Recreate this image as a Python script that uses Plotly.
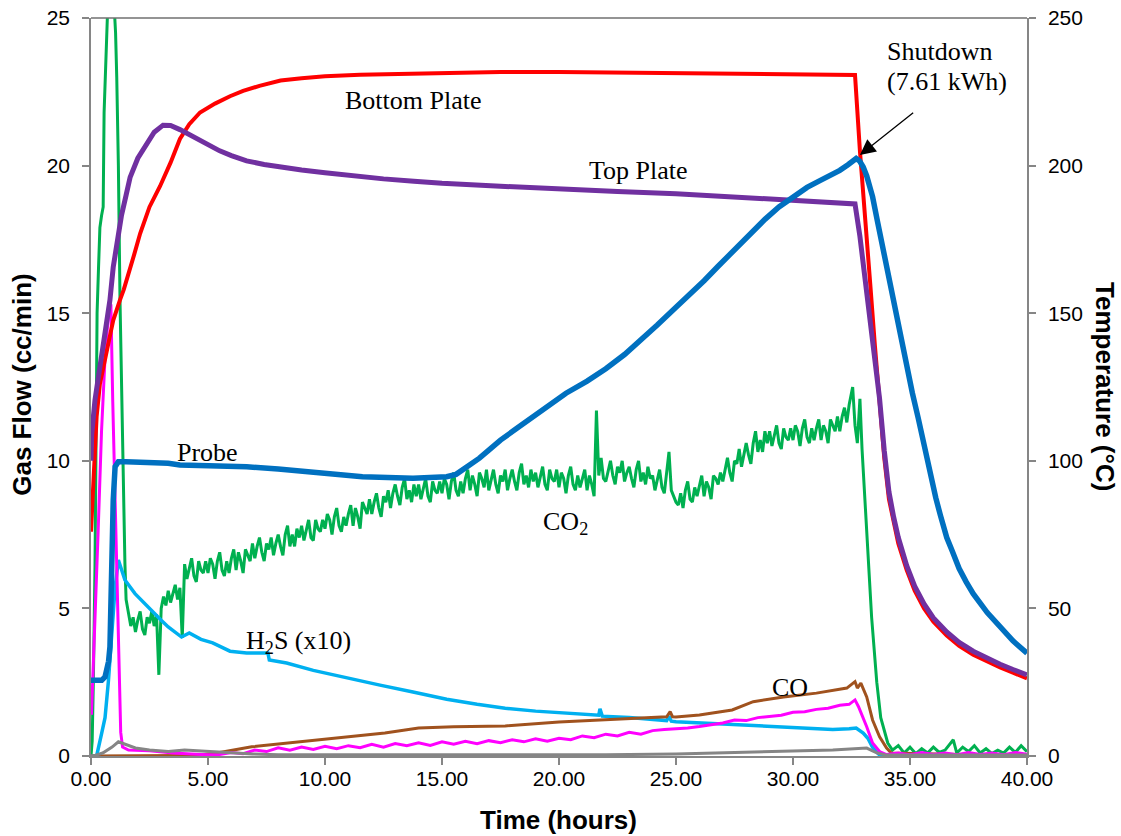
import plotly.graph_objects as go

# ---------------- data ----------------
# Bottom plate temperature (deg C, right axis)
bp_t = [0.0, 0.03, 0.1, 0.24, 0.38, 0.5, 0.67, 0.8, 0.95, 1.1, 1.24, 1.4, 1.6, 1.85, 2.1, 2.5, 2.95,
        3.4, 3.8, 4.2, 4.66, 5.3, 5.94, 6.5, 7.2, 8.1, 9.0, 10.0, 11.5, 12.5, 15.0, 17.5, 20.0, 22.5,
        25.0, 27.5, 30.0, 32.65, 32.86, 33.1, 33.3, 33.5, 33.7, 33.9, 34.1, 34.3, 34.5, 34.86, 35.2,
        35.6, 36.0, 36.57, 37.1, 37.7, 38.3, 38.85, 39.4, 40.0]
bp_v = [76, 81, 98, 115, 126, 131, 137.4, 142, 147.6, 151.5, 154.5, 158, 163, 170, 177, 186, 193,
        201, 209, 214, 218, 221, 223.5, 225.3, 227, 228.8, 229.6, 230.3, 230.8, 231.0, 231.4, 231.7,
        231.7, 231.5, 231.4, 231.2, 231.0, 230.7, 205, 182, 160, 139, 118, 101, 87, 79, 72, 63, 56,
        50, 45.5, 40.8, 37.3, 34.3, 32.0, 30.0, 28.2, 26.3]

# Top plate temperature (deg C, right axis)
tp_t = [0.0, 0.03, 0.17, 0.38, 0.6, 0.81, 0.95, 1.1, 1.3, 1.5, 1.67, 2.0, 2.38, 2.7, 3.08, 3.4, 3.8,
        4.2, 4.6, 5.0, 5.5, 6.0, 6.65, 7.4, 8.08, 9.0, 10.0, 11.2, 12.5, 13.8, 15.0, 17.5, 20.0,
        22.5, 25.0, 27.5, 30.0, 32.65, 32.86, 33.08, 33.29, 33.5, 33.7, 33.9, 34.1, 34.3, 34.5,
        34.86, 35.2, 35.6, 36.0, 36.57, 37.1, 37.7, 38.3, 38.85, 39.4, 40.0]
tp_v = [100, 109, 120.6, 131.8, 143, 154.5, 165.6, 173, 183, 190, 196, 202.5, 207.6, 211.3, 213.7,
        213.6, 212.2, 210.5, 208.6, 206.8, 205.0, 203.4, 201.6, 200.4, 199.5, 198.5, 197.6, 196.5,
        195.5, 194.7, 194.0, 193.0, 192.0, 191.2, 190.5, 189.3, 188.0, 187.0, 176, 162, 149, 135,
        121, 103.5, 89.5, 81, 74, 64.5, 57.5, 51.5, 46.8, 42, 38.5, 35.5, 33.1, 31.1, 29.3, 27.5]

# Probe temperature (deg C, right axis)
pr_t = [0.0, 0.46, 0.6, 0.67, 0.75, 0.81, 0.88, 0.95, 1.03, 1.17, 1.5, 2.5, 3.3, 3.8, 5.0, 6.65,
        8.0, 9.5, 11.6, 13.76, 15.2, 15.6, 15.9, 16.3, 16.6, 17.0, 17.5, 18.2, 18.9, 19.6, 20.3,
        21.2, 22.0, 22.8, 23.5, 24.2, 25.0, 25.6, 26.2, 26.8, 27.5, 28.2, 28.8, 29.4, 30.0, 30.6,
        31.15, 31.6, 32.0, 32.35, 32.7, 32.85, 33.0, 33.15, 33.4, 33.6, 33.85, 34.1, 34.3, 34.6,
        34.86, 35.1, 35.35, 35.7, 36.1, 36.3, 36.57, 36.8, 37.1, 37.4, 37.7, 38.3, 38.85, 39.4,
        40.0]
pr_v = [25.7, 25.7, 26.8, 29, 32, 37, 64, 86.7, 98, 99.7, 99.7, 99.5, 99.2, 98.6, 98.4, 98.0,
        97.2, 96.3, 94.6, 94.1, 94.6, 95.4, 96.9, 98.9, 100.9, 103.6, 107.0, 111.0, 114.9, 118.9,
        122.9, 127.0, 131.2, 136.0, 140.8, 146.0, 152.0, 156.4, 161.0, 165.9, 171.5, 177.2, 181.8,
        186.0, 189.5, 192.6, 194.9, 196.7, 198.4, 200.3, 202.4, 201.5, 199.5, 196.5, 189.5, 181.5,
        171.4, 161.5, 153.4, 141.5, 131.8, 123.0, 114.5, 101.0, 87.5, 81.5, 74.0, 69.5, 63.5, 59.0,
        55.0, 48.6, 43.7, 39.0, 34.8]

# CO2 flow (cc/min, left axis)
co2_t = [0.0, 0.05, 0.1, 0.17, 0.22, 0.26, 0.32, 0.38, 0.45, 0.52, 0.56, 0.65, 0.73, 0.85, 0.95,
         1.05, 1.1, 1.17, 1.24, 1.31, 1.38, 1.45,
         1.5, 1.6, 1.7, 1.8, 1.9,
         2.0, 2.1, 2.2, 2.3, 2.4, 2.5, 2.6, 2.7, 2.8, 2.9,
         3.0, 3.1, 3.2, 3.3, 3.4, 3.5, 3.6, 3.7, 3.8, 3.9,
         4.0, 4.1, 4.2, 4.3, 4.4, 4.5, 4.6, 4.7, 4.8, 4.9,
         5.0, 5.1, 5.2, 5.3, 5.4, 5.5, 5.6, 5.7, 5.8, 5.9,
         6.0, 6.1, 6.2, 6.3, 6.4, 6.5, 6.6, 6.7, 6.8, 6.9,
         7.0, 7.1, 7.2, 7.3, 7.4, 7.5, 7.6, 7.7, 7.8, 7.9,
         8.0, 8.1, 8.2, 8.3, 8.4, 8.5, 8.6, 8.7, 8.8, 8.9,
         9.0, 9.1, 9.2, 9.3, 9.4, 9.5, 9.6, 9.7, 9.8, 9.9,
         10.0, 10.1, 10.2, 10.3, 10.4, 10.5, 10.6, 10.7, 10.8, 10.9,
         11.0, 11.1, 11.2, 11.3, 11.4, 11.5, 11.6, 11.7, 11.8, 11.9,
         12.0, 12.1, 12.2, 12.3, 12.4, 12.5, 12.6, 12.7, 12.8, 12.9,
         13.0, 13.1, 13.2, 13.3, 13.4, 13.5, 13.6, 13.7, 13.8, 13.9,
         14.0, 14.1, 14.2, 14.3, 14.4, 14.5, 14.6, 14.7, 14.8, 14.9,
         15.0, 15.1, 15.2, 15.3, 15.4, 15.5, 15.6, 15.7, 15.8, 15.9,
         16.0, 16.1, 16.2, 16.3, 16.4, 16.5, 16.6, 16.7, 16.8, 16.9,
         17.0, 17.1, 17.2, 17.3, 17.4, 17.5, 17.6, 17.7, 17.8, 17.9,
         18.0, 18.1, 18.2, 18.3, 18.4, 18.5, 18.6, 18.7, 18.8, 18.9,
         19.0, 19.1, 19.2, 19.3, 19.4, 19.5, 19.6, 19.7, 19.8, 19.9,
         20.0, 20.1, 20.2, 20.3, 20.4, 20.5, 20.6, 20.7, 20.8, 20.9,
         21.0, 21.1, 21.2, 21.3, 21.4, 21.5, 21.6, 21.7, 21.8, 21.9,
         22.0, 22.1, 22.2, 22.3, 22.4, 22.5, 22.6, 22.7, 22.8, 22.9,
         23.0, 23.1, 23.2, 23.3, 23.4, 23.5, 23.6, 23.7, 23.8, 23.9,
         24.0, 24.1, 24.2, 24.3, 24.4, 24.5, 24.6, 24.7, 24.8, 24.9,
         25.0, 25.1, 25.2, 25.3, 25.4, 25.5, 25.6, 25.7, 25.8, 25.9,
         26.0, 26.1, 26.2, 26.3, 26.4, 26.5, 26.6, 26.7, 26.8, 26.9,
         27.0, 27.1, 27.2, 27.3, 27.4, 27.5, 27.6, 27.7, 27.8, 27.9,
         28.0, 28.1, 28.2, 28.3, 28.4, 28.5, 28.6, 28.7, 28.8, 28.9,
         29.0, 29.1, 29.2, 29.3, 29.4, 29.5, 29.6, 29.7, 29.8, 29.9,
         30.0, 30.1, 30.2, 30.3, 30.4, 30.5, 30.6, 30.7, 30.8, 30.9,
         31.0, 31.1, 31.2, 31.3, 31.4, 31.5, 31.6, 31.7, 31.8, 31.9,
         32.0, 32.1, 32.2, 32.3, 32.4, 32.55, 32.65, 32.75, 32.86, 32.95, 33.15, 33.36,
         33.58, 33.75, 34.05, 34.25, 34.5, 34.75, 35.0, 35.25, 35.5, 35.75, 36.0, 36.25, 36.5,
         36.85, 37.0, 37.25, 37.5, 37.75, 38.0, 38.25, 38.5, 38.75, 39.0, 39.25, 39.5, 39.75, 40.0]
co2_v = [0.0, 0.5, 2.5, 6.4, 11.0, 15.0, 16.5, 17.9, 18.3, 18.6, 21.8, 23.5, 25.5, 28.5, 26.0,
         24.5, 23.0, 20.0, 15.4, 12.0, 8.7, 6.5,
         5.3, 4.8, 4.4, 4.7, 4.2,
         4.6, 4.9, 4.3, 4.1, 4.7, 4.5, 4.9, 4.4, 4.8, 2.75,
         5.0, 5.4, 5.1, 5.6, 5.2, 5.5, 5.8, 5.3, 5.7, 4.0,
         6.5, 6.0, 6.4, 6.7, 6.1, 5.9, 6.6, 6.3, 6.2, 6.6,
         6.2, 6.7, 6.5, 6.0, 6.6, 6.9, 6.3, 6.1, 6.6, 6.2,
         6.7, 7.0, 6.3, 6.9, 6.6, 6.2, 7.0, 6.8, 6.6, 7.2,
         6.7, 7.1, 7.4, 6.9, 6.6, 7.2, 7.0, 7.4, 6.8, 7.2,
         7.5, 7.1, 6.8, 7.5, 7.8, 7.1, 7.5, 7.1, 7.7, 7.4,
         7.8, 7.3, 7.7, 8.0, 7.4, 7.3, 8.0, 7.7, 7.6, 8.0,
         7.7, 8.2, 8.0, 7.5, 8.1, 8.4, 7.8, 7.6, 8.1, 7.8,
         8.2, 8.5, 7.8, 8.4, 8.1, 7.7, 8.6, 8.4, 8.2, 8.7,
         8.2, 8.6, 8.9, 8.4, 8.1, 8.8, 8.6, 9.0, 8.4, 8.9,
         9.2, 8.8, 8.5, 9.1, 9.4, 8.7, 9.0, 8.6, 9.2, 8.8,
         9.2, 8.7, 9.1, 9.4, 8.8, 8.6, 9.3, 9.0, 8.9, 9.3,
         8.9, 9.4, 9.2, 8.7, 9.3, 9.6, 9.0, 8.8, 9.3, 8.9,
         9.4, 9.7, 9.0, 9.5, 9.2, 8.8, 9.6, 9.4, 9.1, 9.7,
         9.0, 9.4, 9.7, 9.2, 8.9, 9.5, 9.3, 9.7, 9.0, 9.4,
         9.7, 9.3, 9.0, 9.6, 9.9, 9.2, 9.5, 9.1, 9.7, 9.3,
         9.6, 9.1, 9.5, 9.8, 9.2, 9.0, 9.7, 9.4, 9.3, 9.7,
         9.1, 9.6, 9.4, 8.9, 9.5, 9.8, 9.2, 9.0, 9.5, 9.1,
         9.4, 9.7, 9.0, 9.5, 9.2, 8.8, 11.7, 9.5, 10.1, 9.4,
         9.3, 9.7, 10.0, 9.5, 9.2, 9.8, 9.6, 10.0, 9.3, 9.6,
         9.8, 9.4, 9.1, 9.7, 10.0, 9.3, 9.6, 9.2, 9.8, 9.4,
         9.5, 9.0, 9.4, 9.7, 9.1, 8.9, 9.6, 10.3, 9.0, 8.8,
         8.6, 8.5, 8.9, 8.4, 9.0, 9.3, 8.7, 8.6, 9.1, 8.8,
         9.2, 9.5, 8.8, 9.3, 9.1, 8.7, 9.5, 9.4, 9.2, 9.6,
         9.3, 9.7, 10.1, 9.6, 9.3, 10.0, 9.9, 10.4, 9.8, 10.2,
         10.6, 10.2, 9.9, 10.6, 11.0, 10.3, 10.7, 10.3, 11.0, 10.6,
         11.0, 10.5, 10.9, 11.2, 10.6, 10.4, 11.1, 10.8, 10.7, 11.1,
         10.7, 11.2, 11.0, 10.5, 11.1, 11.4, 10.8, 10.6, 11.1, 10.7,
         11.1, 11.4, 10.7, 11.2, 11.0, 10.6, 11.4, 11.2, 11.0, 11.5,
         11.0, 11.5, 11.8, 11.3, 11.9, 12.5, 11.2, 10.6, 12.1, 10.4, 7.55, 4.7,
         2.5, 1.3, 0.44, 0.2, 0.35, 0.1, 0.3, 0.08, 0.25, 0.1, 0.3, 0.12, 0.2,
         0.55, 0.1, 0.3, 0.15, 0.35, 0.1, 0.25, 0.08, 0.2, 0.1, 0.3, 0.12, 0.35, 0.15]

# H2S flow x10 (cc/min, left axis)
h2s_t = [0.0, 0.24, 0.46, 0.6, 0.74, 0.88, 1.03, 1.17, 1.3, 1.45, 1.88, 2.3, 2.6, 3.0, 3.3, 3.6,
         3.87, 4.2, 4.7, 5.2, 5.94, 6.65, 7.1, 7.56, 7.62, 8.36, 9.5, 10.9, 12.35, 13.76, 15.2,
         16.5, 17.7, 19.0, 20.0, 21.0, 21.7, 21.75, 21.85, 23.0, 24.6, 24.7, 24.8, 25.0, 26.0,
         27.4, 28.9, 30.3, 31.7, 32.4, 32.7, 33.0, 33.2, 33.4, 33.7, 34.0, 40.0]
h2s_v = [0.0, 0.0, 0.78, 1.3, 2.5, 4.2, 5.7, 6.64, 6.3, 5.96, 5.5, 5.15, 4.94, 4.6, 4.37, 4.2,
         4.03, 4.17, 3.95, 3.83, 3.55, 3.49, 3.5, 3.49, 3.25, 3.15, 2.9, 2.64, 2.4, 2.17, 1.92,
         1.75, 1.62, 1.52, 1.47, 1.4, 1.38, 1.6, 1.35, 1.3, 1.2, 1.35, 1.18, 1.16, 1.12,
         1.08, 1.03, 0.96, 0.9, 0.92, 0.95, 0.78, 0.6, 0.3, 0.03, 0.0, 0.0]

# CO flow (cc/min, left axis)
co_t = [0.0, 1.0, 2.0, 3.0, 4.0, 4.7, 5.5, 6.87, 8.3, 9.7, 11.1, 12.56, 14.0, 15.5, 17.7, 19.0,
        20.0, 21.75, 23.0, 24.6, 24.75, 24.85, 25.0, 26.0, 27.4, 28.3, 29.6, 31.0, 32.3, 32.65,
        32.75, 32.9, 33.15, 33.4, 33.7, 34.0, 34.2, 40.0]
co_v = [0.0, 0.0, 0.0, 0.02, 0.02, 0.03, 0.12, 0.31, 0.43, 0.54, 0.66, 0.78, 0.95, 0.99, 1.02, 1.1,
        1.15, 1.22, 1.27, 1.33, 1.5, 1.33, 1.32, 1.39, 1.56, 1.84, 2.0, 2.13, 2.3, 2.52,
        2.3, 2.47, 2.0, 1.22, 0.65, 0.27, 0.1, 0.0]

# Magenta gas flow (cc/min, left axis)
mg_t = [0.02, 0.15, 0.3, 0.45, 0.6, 0.75, 0.85, 0.93, 1.02, 1.1, 1.18, 1.27, 1.35, 1.6, 2.5, 3.5,
        4.5, 5.0, 5.5, 6.0, 6.5, 7.0, 7.5, 8.0, 8.5, 9.0, 9.5, 10.0, 10.5, 11.0, 11.5, 12.0, 12.5,
        13.0, 13.5, 14.0, 14.5, 15.0, 15.5, 16.0, 16.5, 17.0, 17.5, 18.0, 18.5, 19.0, 19.5, 20.0,
        20.5, 21.0, 21.5, 22.0, 22.5, 23.0, 23.5, 24.0, 24.5, 25.0, 25.5, 26.0, 26.5, 27.0, 27.5,
        28.0, 28.5, 29.0, 29.5, 30.0, 30.5, 31.0, 31.5, 32.0, 32.4, 32.65, 32.8, 33.15, 33.4, 33.7,
        34.0, 34.5, 35.0, 35.5, 36.0, 36.5, 37.0, 37.5, 38.0, 38.5, 39.0, 39.5, 40.0]
mg_v = [1.4, 4.0, 7.5, 11.0, 13.5, 15.0, 15.3, 12.0, 9.0, 6.4, 3.5, 0.8, 0.3, 0.2, 0.18, 0.1,
        0.06, 0.04, 0.05, 0.12, 0.08, 0.2, 0.15, 0.28, 0.2, 0.3, 0.22, 0.33, 0.25, 0.35, 0.28, 0.4, 0.3,
        0.42, 0.35, 0.45, 0.36, 0.48, 0.4, 0.5, 0.42, 0.52, 0.45, 0.55, 0.48, 0.58, 0.5, 0.6,
        0.55, 0.68, 0.62, 0.74, 0.68, 0.8, 0.74, 0.86, 0.9, 0.92, 0.95, 1.0, 1.05, 1.12, 1.22,
        1.2, 1.3, 1.35, 1.38, 1.48, 1.5, 1.58, 1.62, 1.72, 1.75, 1.9, 1.67, 0.99, 0.44, 0.15,
        0.05, 0.1, 0.04, 0.12, 0.05, 0.1, 0.04, 0.12, 0.05, 0.1, 0.04, 0.12, 0.06]

# Grey gas flow (cc/min, left axis)
gr_t = [0.0, 0.17, 0.5, 0.9, 1.17, 1.5, 1.9, 2.5, 3.3, 4.0, 4.6, 5.4, 6.9, 8.0, 15.0, 22.0, 25.0,
        28.9, 31.7, 33.15, 33.6, 34.0, 40.0]
gr_v = [0.0, 0.02, 0.1, 0.3, 0.48, 0.38, 0.27, 0.2, 0.15, 0.2, 0.17, 0.15, 0.07, 0.04, 0.03, 0.04,
        0.07, 0.15, 0.2, 0.27, 0.1, 0.03, 0.03]

x_ticks = [0, 5, 10, 15, 20, 25, 30, 35, 40]
left_ticks = [0, 5, 10, 15, 20, 25]
right_ticks = [0, 50, 100, 150, 200, 250]

# ---------------- figure ----------------
fig = go.Figure()


def add(t, v, color, width, axis):
    fig.add_trace(go.Scatter(x=t, y=v, mode='lines', yaxis=axis,
                             line=dict(color=color, width=width),
                             showlegend=False, hoverinfo='skip'))


add(co2_t, co2_v, '#00B050', 3, 'y')
add(h2s_t, h2s_v, '#00B0F0', 3.5, 'y')
add(co_t, co_v, '#A0521E', 3, 'y')
add(mg_t, mg_v, '#FF00FF', 3, 'y')
add(gr_t, gr_v, '#858585', 3, 'y')
add(bp_t, bp_v, '#FF0000', 4, 'y2')
add(tp_t, tp_v, '#7030A0', 5, 'y2')
add(pr_t, pr_v, '#0070C0', 5.5, 'y2')

axis_col = '#868686'
tick_font = dict(family='Liberation Sans, Arial, sans-serif', size=21, color='black')
serif = dict(family='Liberation Serif, Times New Roman, serif', size=26, color='black')
bold = dict(family='Liberation Sans, Arial, sans-serif', size=26, color='black')

fig.update_layout(
    width=1121, height=836,
    margin=dict(l=91, r=94, t=18, b=80, autoexpand=False),
    paper_bgcolor='white', plot_bgcolor='white',
    xaxis=dict(range=[0, 40], tickvals=x_ticks, tickformat='.2f', showgrid=False, zeroline=False,
               showline=True, linecolor=axis_col, linewidth=1.5, ticks='outside', ticklen=7,
               tickcolor=axis_col, tickwidth=1.5, tickfont=tick_font, ticklabelstandoff=-4,
               automargin=False),
    yaxis=dict(range=[0, 25], tickvals=left_ticks, showgrid=False, zeroline=False,
               showline=True, linecolor=axis_col, linewidth=1.5, ticks='outside', ticklen=7,
               tickcolor=axis_col, tickwidth=1.5, tickfont=tick_font, ticklabelstandoff=8,
               automargin=False),
    yaxis2=dict(range=[0, 250], tickvals=right_ticks, overlaying='y', side='right',
                showgrid=False, zeroline=False, showline=True, linecolor=axis_col, linewidth=1.5,
                ticks='outside', ticklen=7, tickcolor=axis_col, tickwidth=1.5, tickfont=tick_font,
                ticklabelstandoff=8, automargin=False),
    shapes=[dict(type='line', xref='paper', yref='paper', x0=0, x1=1, y0=1, y1=1,
                 line=dict(color='#707070', width=1.5))],
)

ann = [
    dict(text='Bottom Plate', x=13.8, y=22.2),
    dict(text='Top Plate', x=23.4, y=19.85),
    dict(text='Probe', x=4.98, y=10.28),
    dict(text='CO<sub>2</sub>', x=20.26, y=7.9),
    dict(text='H<sub>2</sub>S (x10)', x=8.85, y=3.85),
    dict(text='CO', x=29.88, y=2.32),
    dict(text='Shutdown', x=36.28, y=23.85),
    dict(text='(7.61 kWh)', x=36.57, y=22.84),
]
for a in ann:
    fig.add_annotation(text=a['text'], x=a['x'], y=a['y'], xref='x', yref='y',
                       showarrow=False, font=serif, xanchor='center', yanchor='middle')

fig.add_annotation(text='', x=32.86, y=20.36, ax=35.2, ay=21.83, xref='x', yref='y',
                   axref='x', ayref='y', showarrow=True, arrowhead=2, arrowsize=2.4,
                   arrowwidth=1.3, arrowcolor='black')

# axis titles
fig.add_annotation(text='<b>Time (hours)</b>', xref='paper', yref='paper', x=0.499, y=-0.087,
                   showarrow=False, font=bold, xanchor='center', yanchor='middle')
fig.add_annotation(text='<b>Gas Flow (cc/min)</b>', xref='paper', yref='paper', x=-0.0737,
                   y=0.503, showarrow=False, font=bold, textangle=-90,
                   xanchor='center', yanchor='middle')
fig.add_annotation(text='<b>Temperature (°C)</b>', xref='paper', yref='paper', x=1.0833,
                   y=0.50, showarrow=False, font=bold, textangle=90,
                   xanchor='center', yanchor='middle')

fig.write_html('out.html')
